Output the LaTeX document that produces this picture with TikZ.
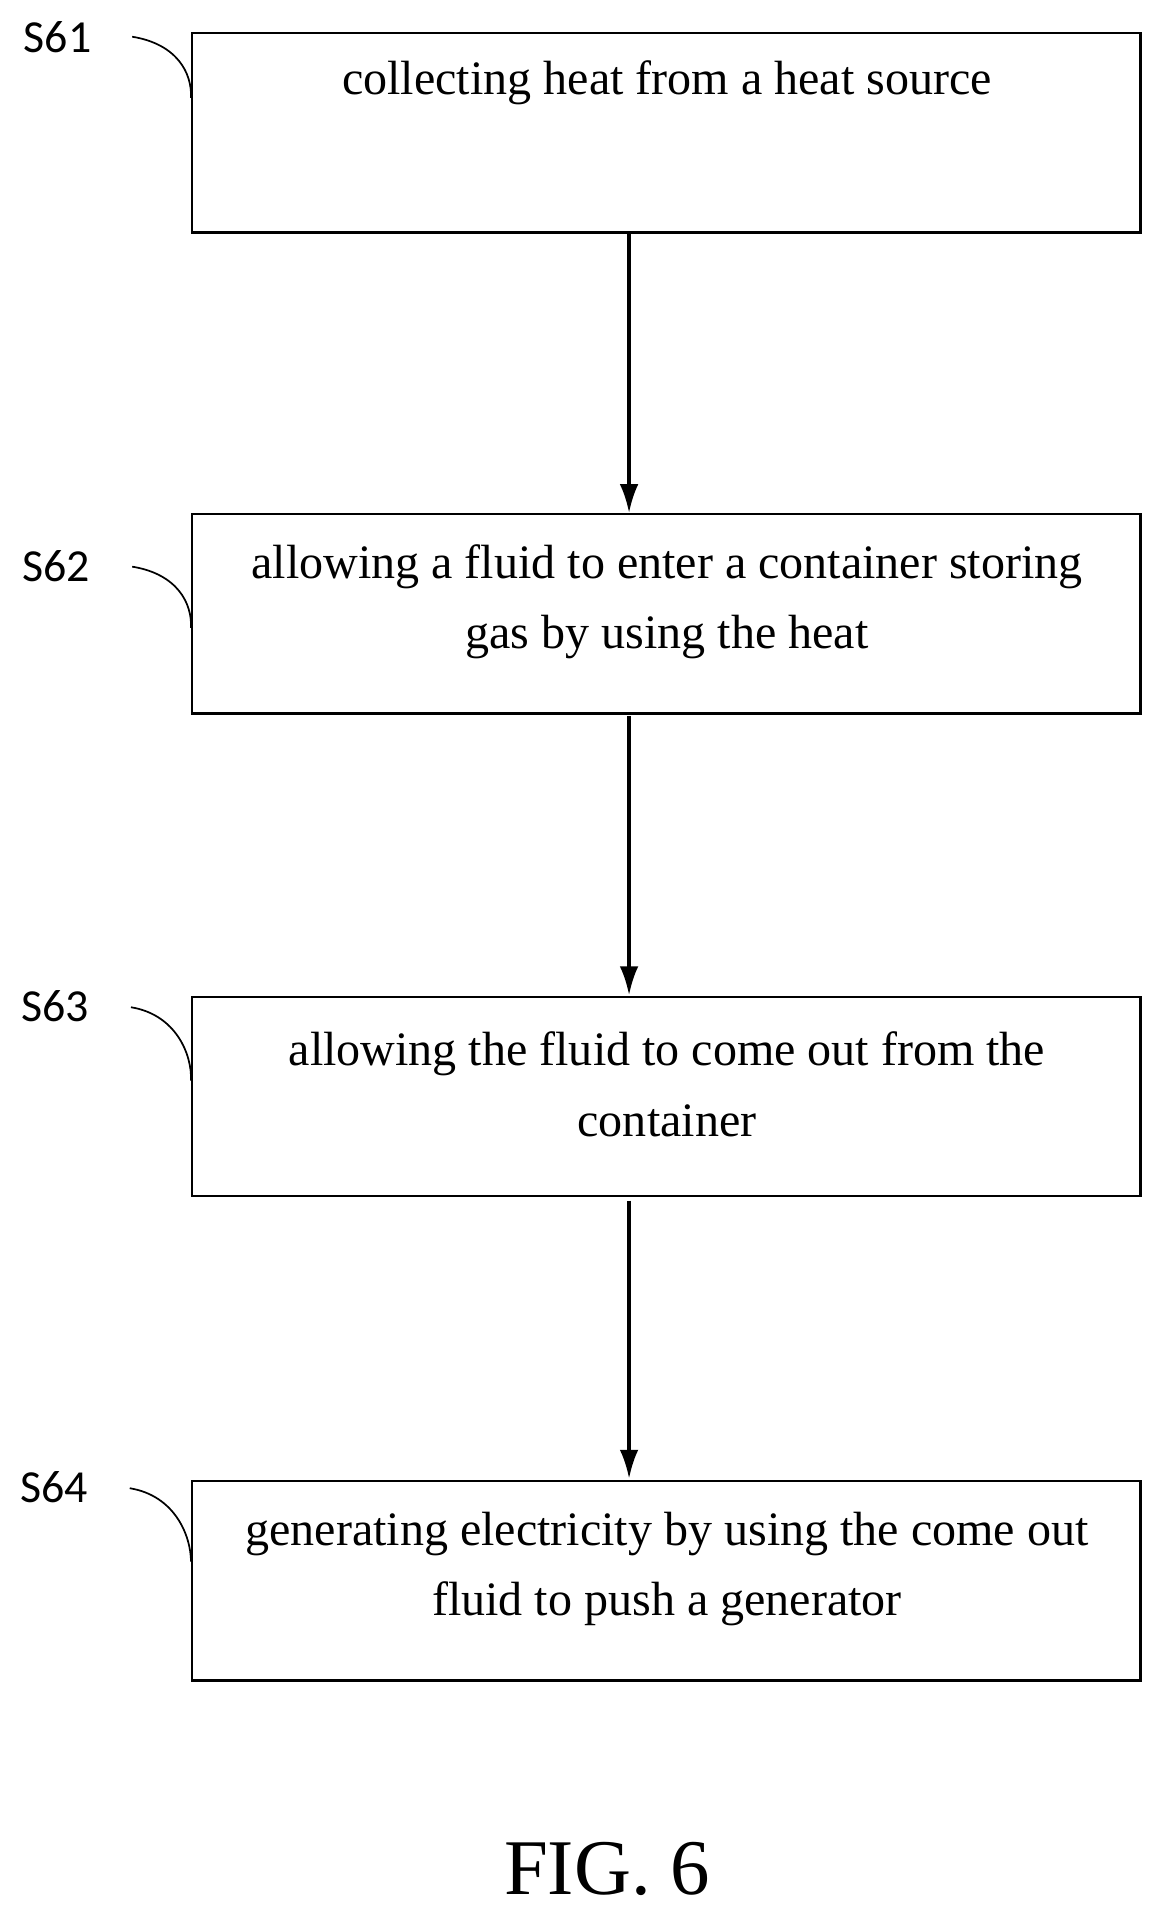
\documentclass[tikz,border=0pt]{standalone}
\usepackage{fontspec}
\setmainfont{Liberation Serif}
\newfontfamily\lblfont{Carlito}
\usetikzlibrary{arrows.meta}
\begin{document}
\begin{tikzpicture}[x=0.03cm,y=-0.03cm,
  box/.style={draw,line width=1.6pt,minimum width=775*0.03cm,minimum height=163*0.03cm,inner sep=0pt},
  txt/.style={font=\fontsize{33.5}{49}\selectfont,align=center},
  lbl/.style={font=\lblfont\fontsize{32}{36}\selectfont},
  arr/.style={-{Latex[length=20pt,width=13pt]},line width=2.2pt},
  crv/.style={line width=1.2pt}]
\useasboundingbox (0,0) rectangle (949,1568);
\node[box] (b1) at (544.5,108.5) {};
\node[box] (b2) at (544.5,501.5) {};
\node[box] (b3) at (544.5,896) {};
\node[box] (b4) at (544.5,1291.5) {};
\node[txt] (t1) at (545,68) {collecting heat from a heat source};
\node[txt] (t2) at (545,492) {allowing a fluid to enter a container storing\\gas by using the heat};
\node[txt] (t3) at (545,886) {allowing the fluid to come out from the\\container};
\node[txt] (t4) at (545,1282) {generating electricity by using the come out\\fluid to push a generator};
\node[lbl] (l1) at (47,30) {S61};
\node[lbl] (l2) at (46,463) {S62};
\node[lbl] (l3) at (45,822) {S63};
\node[lbl] (l4) at (44,1215) {S64};
\coordinate (c1) at (108,30); \coordinate (c2) at (108,463);
\coordinate (c3) at (107,823); \coordinate (c4) at (106,1216);
\draw[crv] (c1) .. controls (145,36) and (157,60) .. (b1.west|-0,80);
\draw[crv] (c2) .. controls (145,469) and (157,493) .. (b2.west|-0,513);
\draw[crv] (c3) .. controls (144,829) and (157,862) .. (b3.west|-0,883);
\draw[crv] (c4) .. controls (143,1222) and (156,1255) .. (b4.west|-0,1276);
\draw[arr] (514,190) -- (514,419);
\draw[arr] (514,585) -- (514,813);
\draw[arr] (514,981) -- (514,1208);
\node[font=\fontsize{55}{60}\selectfont] (fig) at (496,1527) {FIG. 6};
\end{tikzpicture}
\end{document}
